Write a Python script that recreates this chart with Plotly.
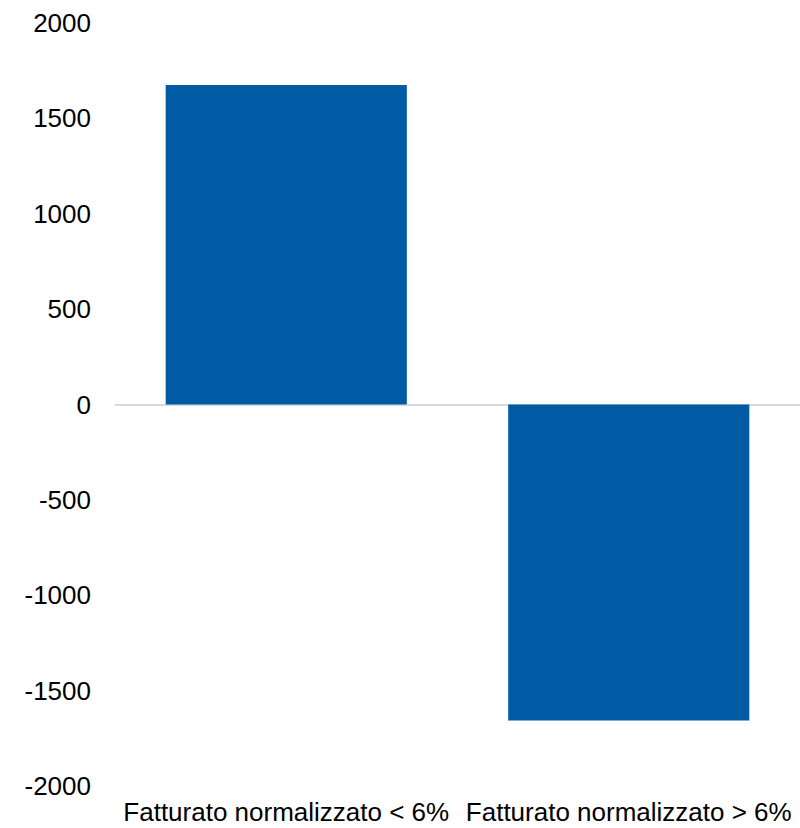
import plotly.graph_objects as go

categories = ["Fatturato normalizzato < 6%", "Fatturato normalizzato > 6%"]
values = [1675, -1656]
tick_vals = [-2000, -1500, -1000, -500, 0, 500, 1000, 1500, 2000]
tick_text = ["-2000", "-1500", "-1000", "-500", "0", "500", "1000", "1500", "2000"]

fig = go.Figure(go.Bar(x=categories, y=values, marker_color="#005BA5", marker_line_width=0))

fig.update_layout(
    width=800, height=828,
    margin=dict(l=115, r=0, t=23, b=42),
    paper_bgcolor="white", plot_bgcolor="white",
    bargap=0.296,
    showlegend=False,
    font=dict(family="Liberation Sans, Arial", size=26, color="black"),
)
fig.update_yaxes(
    range=[-2000, 2000], tickvals=tick_vals, ticktext=tick_text,
    showgrid=False, zeroline=True, zerolinecolor="#D9D9D9", zerolinewidth=1.5,
    showline=False, ticks="", ticklabelstandoff=23,
    tickfont=dict(size=26),
)
fig.update_xaxes(showgrid=False, showline=False, ticks="", ticklabelstandoff=8,
                 tickfont=dict(size=26), tickangle=0, automargin=False)

fig.write_html("out.html")
